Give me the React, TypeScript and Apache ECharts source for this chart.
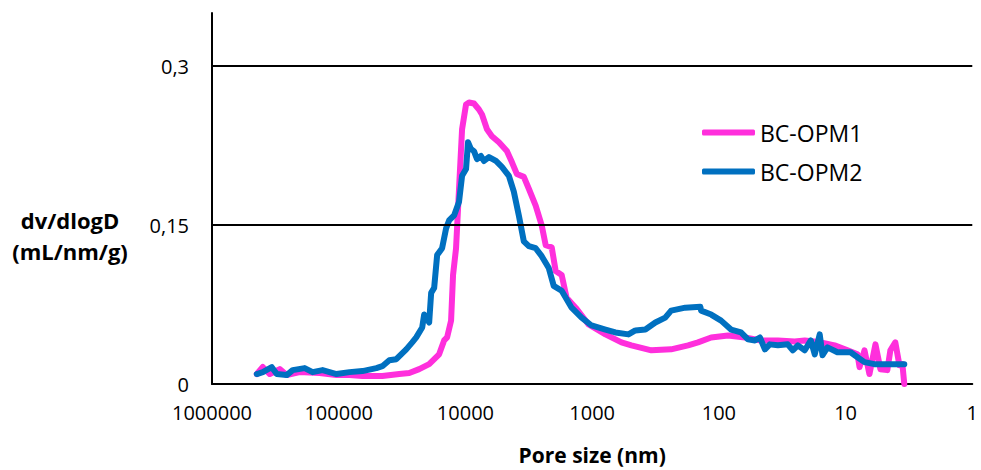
import React, { useEffect, useRef } from "react";
import * as echarts from "echarts";

// Pore size (nm) and dv/dlogD (mL/nm/g)
const poreSizeOPM1 = [
  442900, 397200, 349900, 292100, 257300, 203400, 141600, 104100, 82260, 65020,
  45260, 33270, 27760, 23160, 19330, 16130, 14730, 13950, 12980, 12520,
  11860, 11230, 10630, 9890, 9370, 8560, 7820, 7400, 6760, 6180,
  5440, 4710, 4300, 3930, 3460, 3160, 2790, 2500, 2325, 2085,
  1940, 1740, 1590, 1350, 1067, 785, 587, 490, 341, 238,
  175, 146, 115, 84.7, 62.2, 46.6, 34.2, 25.2, 21.0, 15.7,
  12.2, 9.64, 8.05, 7.76, 7.09, 6.48, 5.81, 5.31, 4.68, 4.43,
  4.05, 3.76, 3.56, 3.44,
];
const dvOPM1 = [
  0.0094, 0.016, 0.0094, 0.014, 0.0084, 0.0112, 0.0103, 0.0084, 0.0084, 0.0075,
  0.0075, 0.0094, 0.0103, 0.014, 0.0187, 0.028, 0.0411, 0.044, 0.0598, 0.1029,
  0.128, 0.1842, 0.2403, 0.2637, 0.2655, 0.2646, 0.259, 0.2543, 0.2403, 0.2338,
  0.2281, 0.2197, 0.2094, 0.1982, 0.1954, 0.1842, 0.1683, 0.1496, 0.1309, 0.129,
  0.1066, 0.1029, 0.0813, 0.072, 0.0561, 0.0468, 0.0393, 0.0365, 0.0318, 0.0327,
  0.0365, 0.0393, 0.0439, 0.0458, 0.0439, 0.0411, 0.0411, 0.0402, 0.0411, 0.0393,
  0.0365, 0.0318, 0.028, 0.0159, 0.0318, 0.0094, 0.0374, 0.014, 0.0131, 0.0318,
  0.0393, 0.0178, 0.0187, 0,
];

const poreSizeOPM2 = [
  442900, 397200, 337600, 308300, 257300, 230800, 185700, 160700, 134100, 104100,
  82260, 65020, 50450, 45260, 39870, 35130, 29310, 26290, 24450, 21940,
  21160, 19330, 18640, 17650, 16720, 15280, 14210, 13460, 12290, 11230,
  10630, 9890, 9540, 9040, 8560, 8110, 7540, 7140, 6520, 5745,
  5155, 4540, 4150, 3790, 3460, 3160, 2790, 2500, 2200, 2010,
  1740, 1452, 1211, 1011, 785, 655, 517, 456, 380, 317,
  265, 238, 184, 140, 138, 115, 96, 80.2, 66.9, 58.9,
  51.9, 47.4, 43.3, 39.6, 34.2, 28.6, 26.1, 23.8, 21.0, 18.8,
  17.5, 16.0, 15.2, 13.9, 11.6, 9.14, 8.05, 7.09, 5.92, 4.68,
  3.44,
];
const dvOPM2 = [
  0.0094, 0.0112, 0.0159, 0.0094, 0.0084, 0.0131, 0.015, 0.0112, 0.0131, 0.0094,
  0.0112, 0.0122, 0.015, 0.0168, 0.0224, 0.0234, 0.0327, 0.0393, 0.044, 0.0533,
  0.0655, 0.058, 0.086, 0.0907, 0.1216, 0.1281, 0.1468, 0.1543, 0.159, 0.172,
  0.1964, 0.2029, 0.2281, 0.2216, 0.2197, 0.2122, 0.2151, 0.2104, 0.2141, 0.2104,
  0.2048, 0.1964, 0.1814, 0.159, 0.1346, 0.13, 0.1281, 0.1206, 0.1094, 0.0926,
  0.0879, 0.072, 0.0626, 0.0552, 0.0514, 0.0486, 0.0468, 0.0505, 0.0514, 0.058,
  0.0626, 0.0692, 0.072, 0.0729, 0.0692, 0.0655, 0.0598, 0.0514, 0.0486, 0.0421,
  0.0411, 0.0439, 0.0327, 0.0374, 0.0365, 0.0374, 0.0318, 0.0365, 0.0318, 0.0411,
  0.028, 0.0468, 0.0271, 0.0346, 0.0299, 0.0299, 0.0252, 0.0206, 0.0187, 0.0187,
  0.0187,
];

const seriesNames = ["BC-OPM1", "BC-OPM2"];
const seriesColors = ["#FF2FDC", "#0070C0"];
const gridValues = [0.15, 0.3];

const FONT = "'Open Sans', 'Liberation Sans', sans-serif";

export default function App() {
  const ref = useRef<HTMLDivElement>(null);

  useEffect(() => {
    document.body.style.margin = "0";
    if (!ref.current) return;
    const chart = echarts.init(ref.current, undefined, { renderer: "svg" });
    const pairs = (xs: number[], ys: number[]) => xs.map((x, i) => [x, ys[i]]);

    chart.setOption({
      animation: false,
      backgroundColor: "#ffffff",
      textStyle: { fontFamily: FONT },
      grid: { left: 212, right: 6, top: 13, bottom: 83, containLabel: false },
      legend: {
        data: seriesNames.map((n) => ({ name: n, icon: "roundRect" })),
        orient: "vertical",
        left: 697,
        top: 116,
        itemWidth: 53,
        itemHeight: 6,
        itemGap: 16,
        textStyle: { fontFamily: FONT, fontSize: 23, color: "#000", padding: [0, 0, 0, 0] },
      },
      xAxis: {
        type: "log",
        logBase: 10,
        min: 1,
        max: 1000000,
        inverse: true,
        splitNumber: 6,
        name: "Pore size (nm)",
        nameLocation: "middle",
        nameGap: 60,
        nameTextStyle: { fontFamily: FONT, fontSize: 21, fontWeight: "bold", color: "#000" },
        axisLine: { show: true, lineStyle: { color: "#000", width: 2 } },
        axisTick: { show: false },
        splitLine: { show: false },
        axisLabel: {
          fontFamily: FONT,
          fontSize: 20,
          color: "#000",
          margin: 18,
          formatter: (v: number) => String(Math.round(v)),
        },
      },
      yAxis: {
        type: "value",
        min: 0,
        max: 0.35,
        interval: 0.15,
        axisLine: { show: true, lineStyle: { color: "#000", width: 2 } },
        axisTick: { show: false },
        splitLine: { show: false },
        axisLabel: {
          fontFamily: FONT,
          fontSize: 20,
          color: "#000",
          margin: 23,
          showMaxLabel: false,
          formatter: (v: number) => (Math.abs(v - 0.35) < 1e-9 ? "" : String(Number(v.toFixed(2))).replace(".", ",")),
        },
      },
      graphic: [
        {
          type: "text",
          x: 70,
          y: 235,
          style: {
            text: "dv/dlogD\n(mL/nm/g)",
            textAlign: "center",
            textVerticalAlign: "middle",
            font: `bold 22px ${FONT}`,
            lineHeight: 31,
            fill: "#000",
          },
        },
      ],
      series: [
        {
          name: "gridlines",
          type: "line",
          z: 1,
          silent: true,
          symbol: "none",
          data: [[1000000, 0]],
          lineStyle: { width: 0 },
          markLine: {
            silent: true,
            symbol: ["none", "none"],
            label: { show: false },
            lineStyle: { color: "#000", width: 2, type: "solid" },
            data: gridValues.map((v) => ({ yAxis: v })),
          },
        },
        {
          name: seriesNames[0],
          type: "line",
          z: 3,
          symbol: "none",
          showSymbol: false,
          data: pairs(poreSizeOPM1, dvOPM1),
          lineStyle: { color: seriesColors[0], width: 6, join: "round", cap: "round" },
          itemStyle: { color: seriesColors[0] },
        },
        {
          name: seriesNames[1],
          type: "line",
          z: 4,
          symbol: "none",
          showSymbol: false,
          data: pairs(poreSizeOPM2, dvOPM2),
          lineStyle: { color: seriesColors[1], width: 6, join: "round", cap: "round" },
          itemStyle: { color: seriesColors[1] },
        },
      ],
    });

    return () => chart.dispose();
  }, []);

  return <div ref={ref} style={{ width: 981, height: 470 }} />;
}
